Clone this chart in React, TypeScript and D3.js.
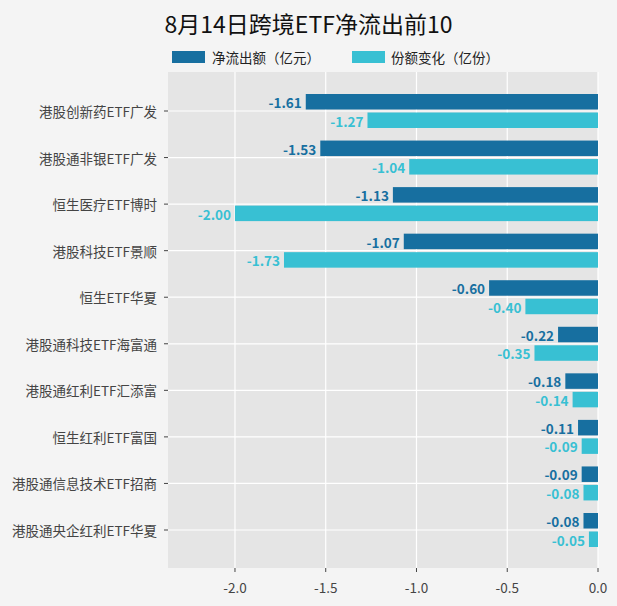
import React from 'react';
import * as d3 from 'd3';

const categories = ['港股创新药ETF广发', '港股通非银ETF广发', '恒生医疗ETF博时', '港股科技ETF景顺', '恒生ETF华夏', '港股通科技ETF海富通', '港股通红利ETF汇添富', '恒生红利ETF富国', '港股通信息技术ETF招商', '港股通央企红利ETF华夏'];
const netOutflow = [-1.61, -1.53, -1.13, -1.07, -0.6, -0.22, -0.18, -0.11, -0.09, -0.08];
const shareChange = [-1.27, -1.04, -2.0, -1.73, -0.4, -0.35, -0.14, -0.09, -0.08, -0.05];
const xTicks = [-2.0, -1.5, -1.0, -0.5, 0.0];

const W = 617, H = 606;
const left = 168, right = 598, top = 72, bottom = 568;
const dark = '#176fa0', light = '#38c0d3';
const font = '"Microsoft YaHei","Noto Sans CJK SC",sans-serif';

export default function App() {
  const x = d3.scaleLinear().domain([-2.369, 0]).range([left, right]);
  const y = d3.scalePoint<string>().domain(categories).range([111, 530]);
  const bh = 15.5;
  return (
    <svg width={W} height={H} style={{ position: 'absolute', left: 0, top: 0, fontFamily: font }}>
      <rect width={W} height={H} fill="#f4f4f4" />
      <rect x={left} y={top} width={right - left} height={bottom - top} fill="#e5e5e5" />
      {xTicks.map(t => <line key={t} x1={x(t)} x2={x(t)} y1={top} y2={bottom} stroke="#fff" strokeWidth={1.2} />)}
      {categories.map(c => <line key={c} x1={left} x2={right} y1={y(c)} y2={y(c)} stroke="#fff" strokeWidth={1.2} />)}
      {categories.map((c, i) => {
        const yc = y(c)!;
        return (
          <g key={c}>
            <rect x={x(netOutflow[i])} y={yc - 17} width={x(0) - x(netOutflow[i])} height={bh} fill={dark} />
            <rect x={x(shareChange[i])} y={yc + 1.5} width={x(0) - x(shareChange[i])} height={bh} fill={light} />
            <text x={x(netOutflow[i]) - 4} y={yc - 9} textAnchor="end" dominantBaseline="central" fontSize={13.5} fontWeight="bold" fill={dark}>{netOutflow[i].toFixed(2)}</text>
            <text x={x(shareChange[i]) - 4} y={yc + 9.5} textAnchor="end" dominantBaseline="central" fontSize={13.5} fontWeight="bold" fill={light}>{shareChange[i].toFixed(2)}</text>
            <text x={157} y={yc} textAnchor="end" dominantBaseline="central" fontSize={13.5} fill="#444">{c}</text>
            <line x1={left - 4} x2={left} y1={yc} y2={yc} stroke="#444" />
          </g>
        );
      })}
      {xTicks.map(t => (
        <g key={'t' + t}>
          <line x1={x(t)} x2={x(t)} y1={bottom} y2={bottom + 4} stroke="#444" />
          <text x={x(t)} y={587} textAnchor="middle" dominantBaseline="central" fontSize={13.5} fill="#444">{t.toFixed(1)}</text>
        </g>
      ))}
      <text x={W / 2} y={23} textAnchor="middle" dominantBaseline="central" fontSize={23} fontWeight={400} fill="#111">8月14日跨境ETF净流出前10</text>
      <rect x={172} y={51} width={33} height={12} fill={dark} />
      <text x={212} y={57} dominantBaseline="central" fontSize={13.5} fill="#222">净流出额（亿元）</text>
      <rect x={352} y={51} width={33} height={12} fill={light} />
      <text x={391} y={57} dominantBaseline="central" fontSize={13.5} fill="#222">份额变化（亿份）</text>
    </svg>
  );
}
